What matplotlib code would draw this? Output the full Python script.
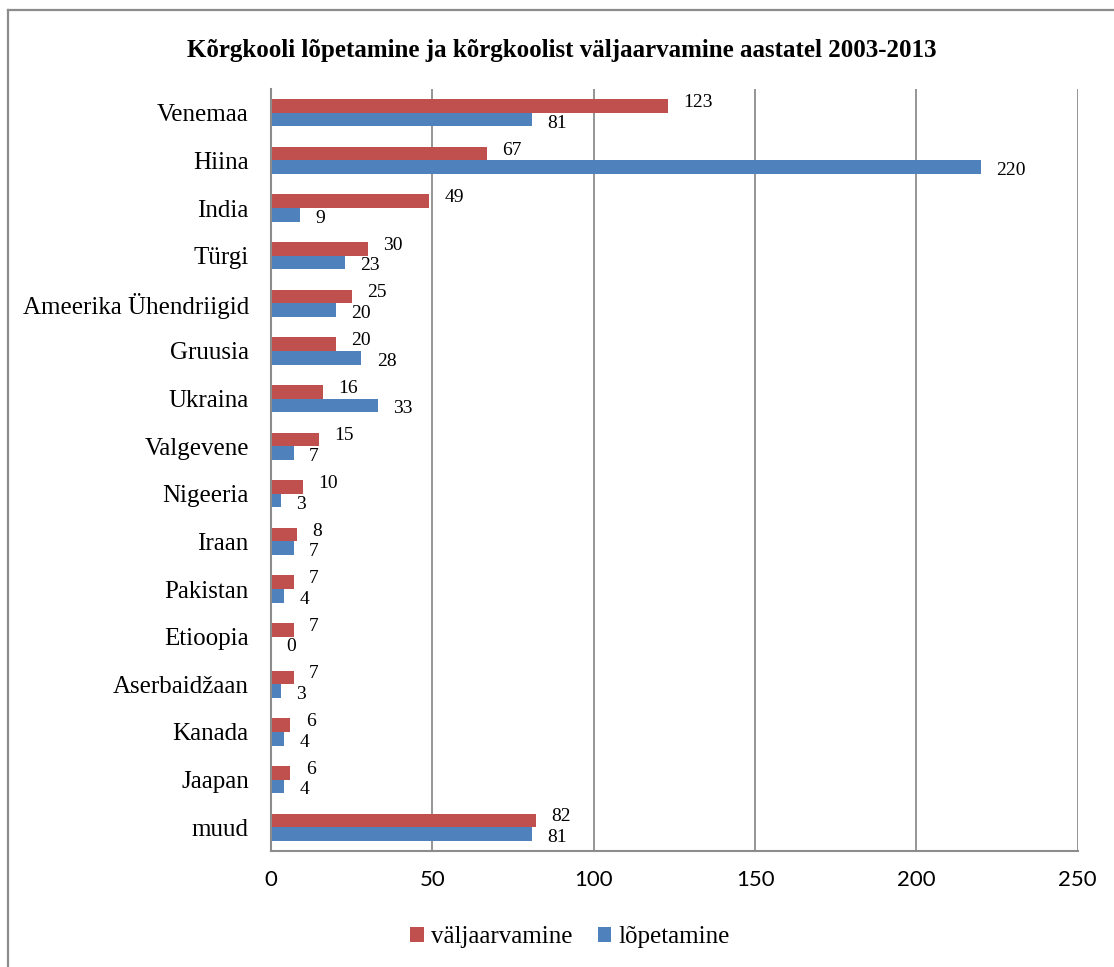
import numpy as np
import matplotlib
matplotlib.use('Agg')
import matplotlib.pyplot as plt
from matplotlib.lines import Line2D

# data
countries = ['Venemaa', 'Hiina', 'India', 'Türgi', 'Ameerika Ühendriigid', 'Gruusia',
             'Ukraina', 'Valgevene', 'Nigeeria', 'Iraan', 'Pakistan', 'Etioopia',
             'Aserbaidžaan', 'Kanada', 'Jaapan', 'muud']
valjaarvamine = [123, 67, 49, 30, 25, 20, 16, 15, 10, 8, 7, 7, 7, 6, 6, 82]
lopetamine = [81, 220, 9, 23, 20, 28, 33, 7, 3, 7, 4, 0, 3, 4, 4, 81]
x_ticks = [0, 50, 100, 150, 200, 250]

red = '#C0504D'
blue = '#4F81BD'
grey = '#8C8C8C'
serif = 'Liberation Serif'

fig = plt.figure(figsize=(11.14, 9.67), dpi=100)
ax = fig.add_axes([0.2433, 0.1200, 0.9674 - 0.2433, 0.9080 - 0.1200])

y = np.arange(len(countries))
h = 0.286
b1 = ax.barh(y - h / 2, valjaarvamine, height=h, color=red, label='väljaarvamine')
b2 = ax.barh(y + h / 2, lopetamine, height=h, color=blue, label='lõpetamine')

# value labels: red ones nudged up, blue ones down so they don't collide
for bars, vals, dy in ((b1, valjaarvamine, 2.5), (b2, lopetamine, -2.5)):
    for bar, v in zip(bars, vals):
        ax.annotate(str(v), (v, bar.get_y() + bar.get_height() / 2),
                    xytext=(11, dy), textcoords='offset points',
                    ha='left', va='center', fontsize=14, family=serif)

ax.set_xlim(0, 250)
ax.set_ylim(len(countries) - 0.5, -0.5)
ax.set_xticks(x_ticks)
ax.set_yticks(y)
ax.set_yticklabels(countries, family=serif, fontsize=18)
for lbl in ax.get_xticklabels():
    lbl.set_family('Lato')
    lbl.set_fontsize(16)
ax.tick_params(axis='both', length=0)
ax.tick_params(axis='x', pad=14)
ax.tick_params(axis='y', pad=16)

ax.grid(axis='x', color=grey, linewidth=1.3)
ax.set_axisbelow(True)
for s in ['top', 'right']:
    ax.spines[s].set_visible(False)
for s in ['left', 'bottom']:
    ax.spines[s].set_color(grey)
    ax.spines[s].set_linewidth(1.5)

fig.text(562 / 1114, 1 - 50 / 967,
         'Kõrgkooli lõpetamine ja kõrgkoolist väljaarvamine aastatel 2003-2013',
         ha='center', va='center', fontsize=18, fontweight='bold', family=serif)

leg = fig.legend(handles=[b1, b2], loc='center', bbox_to_anchor=(570 / 1114, 1 - 937 / 967),
                 ncol=2, frameon=False, prop={'family': serif, 'size': 18},
                 handlelength=0.55, handleheight=0.55, handletextpad=0.3, columnspacing=1.0)

# outer chart border (left and top)
fig.add_artist(Line2D([8 / 1114, 8 / 1114], [0, 1 - 10 / 967], transform=fig.transFigure,
                      color=grey, linewidth=1.6))
fig.add_artist(Line2D([8 / 1114, 1], [1 - 10 / 967, 1 - 10 / 967], transform=fig.transFigure,
                      color=grey, linewidth=1.6))

plt.savefig('out.png', dpi=100)
plt.close()
